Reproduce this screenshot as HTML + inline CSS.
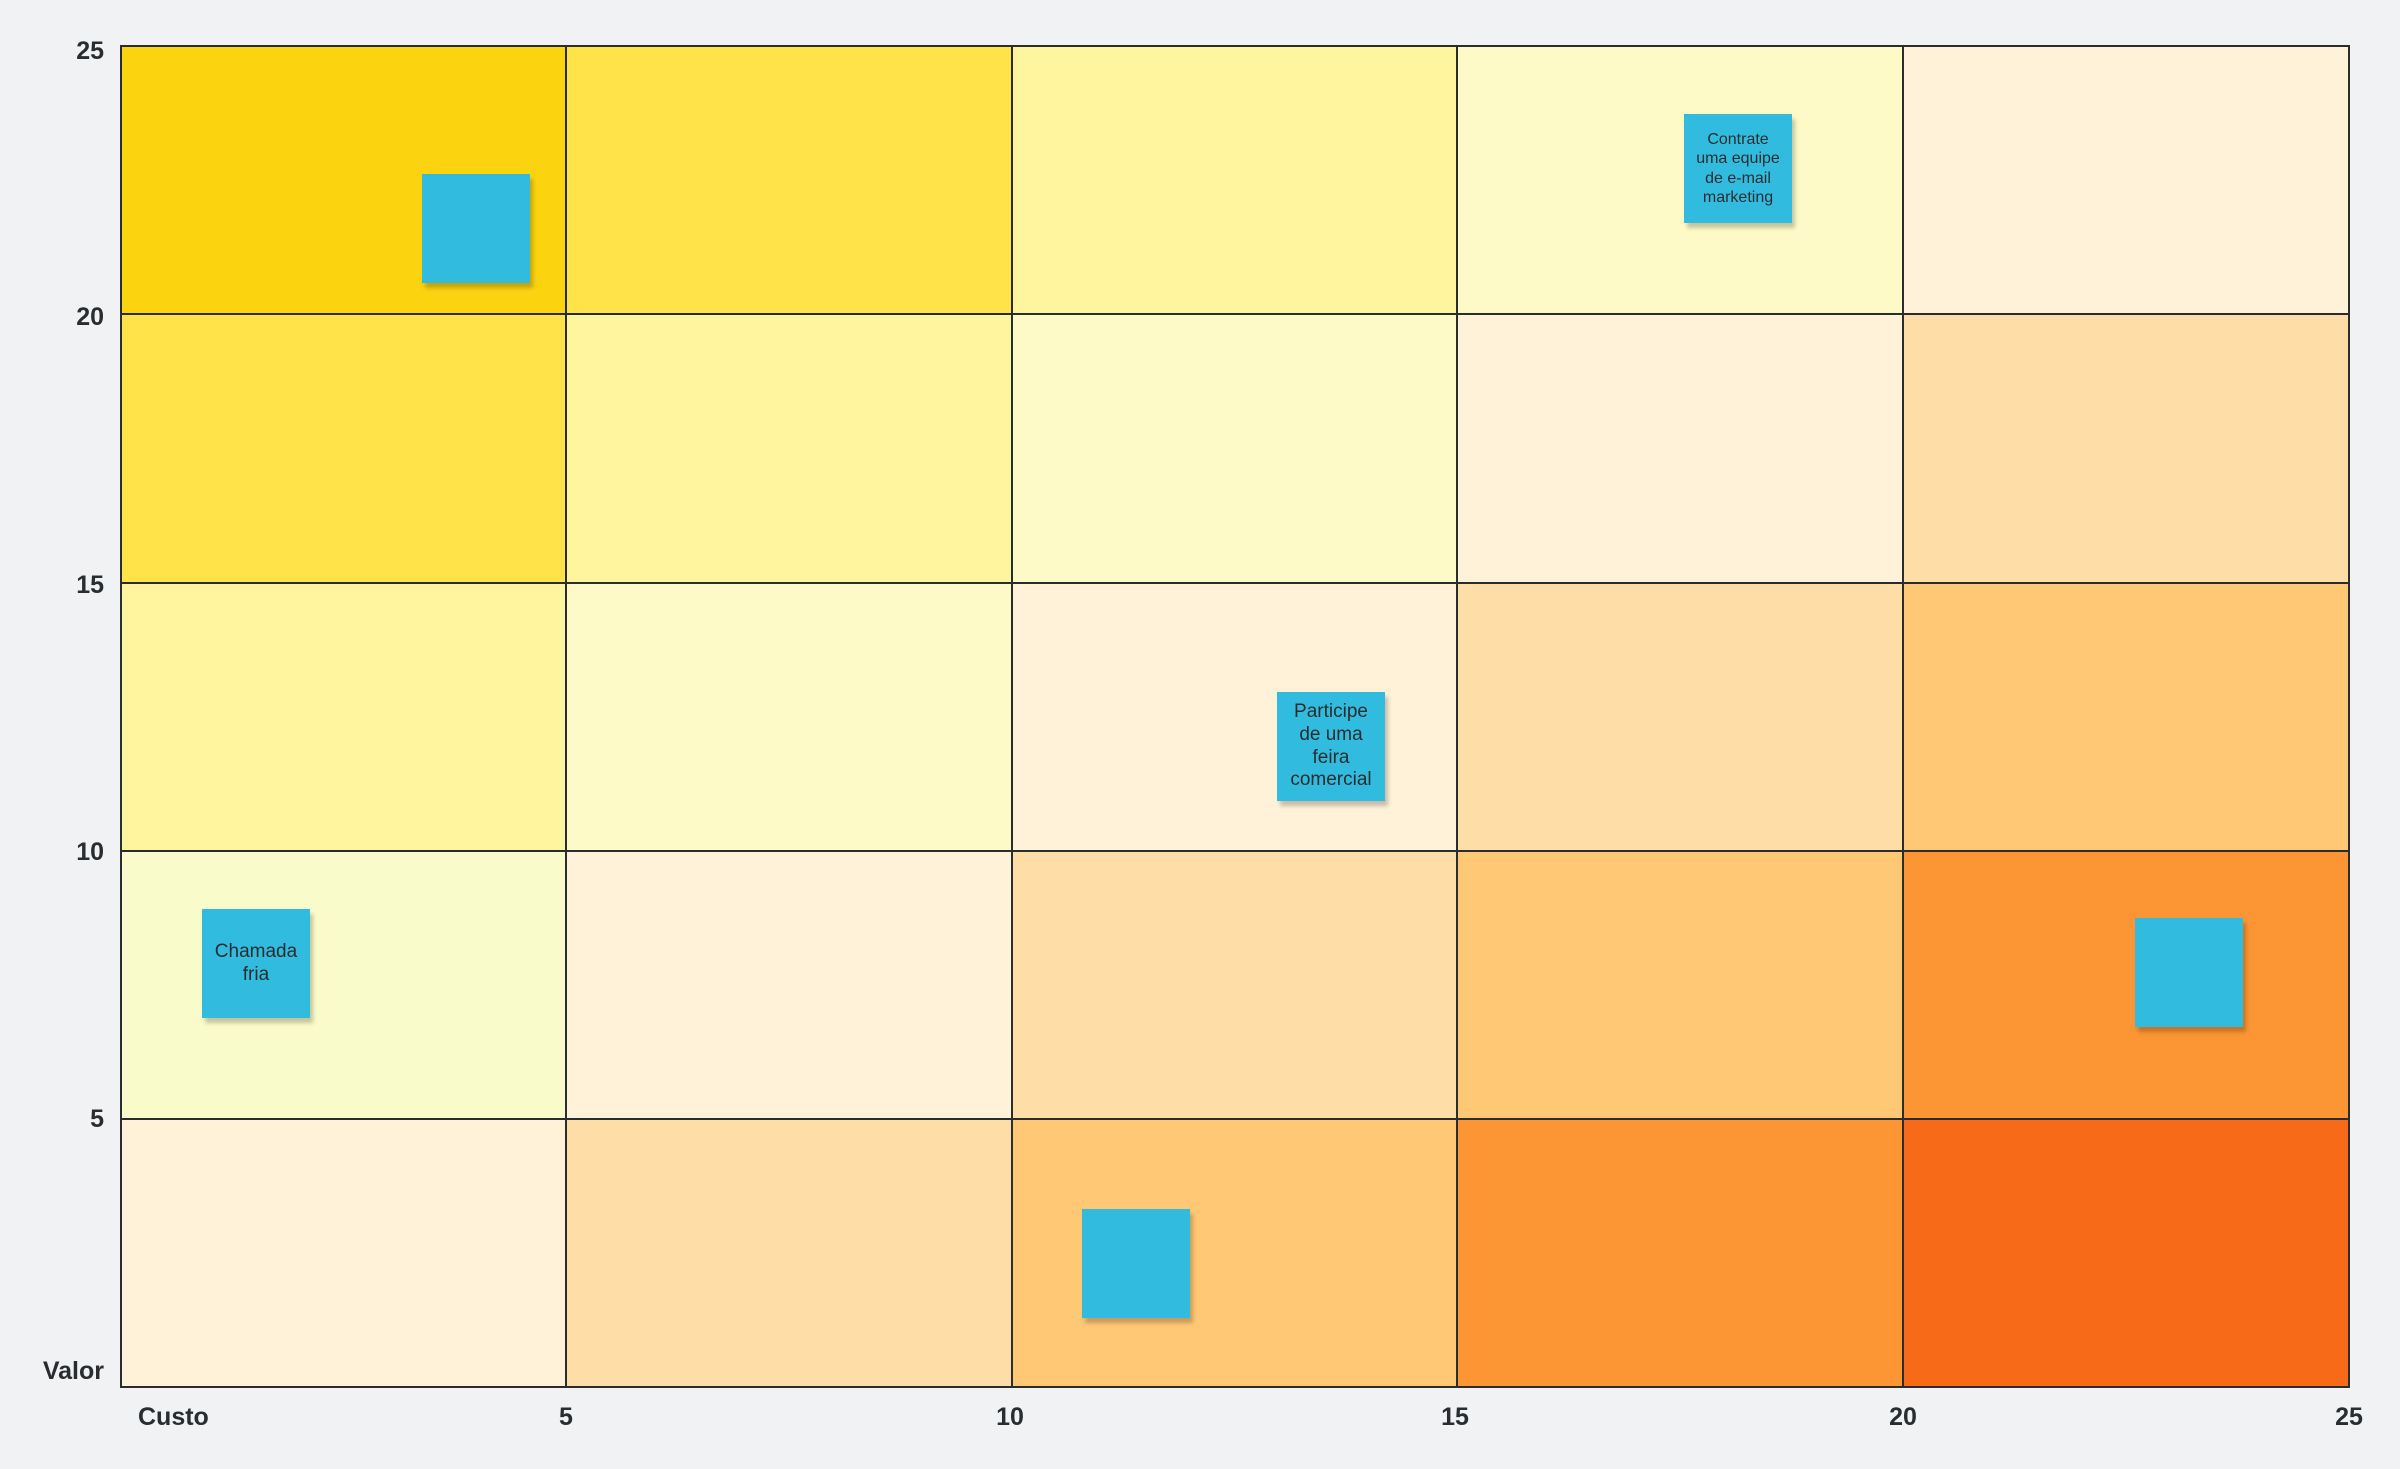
<!DOCTYPE html><html><head><style>
body{margin:0;width:2400px;height:1469px;background:#F1F2F4;position:relative;overflow:hidden;font-family:"Liberation Sans",sans-serif;}
.c{position:absolute;box-sizing:border-box;border:2px solid #2a2d30;}
.s{position:absolute;width:108px;height:109px;background:#31BCDF;box-shadow:3px 5px 4px rgba(0,0,0,0.22);display:flex;align-items:center;justify-content:center;text-align:center;color:#2a2d30;line-height:1.2;}
.t{position:absolute;font-weight:bold;font-size:25px;color:#2a2d30;}
.y{right:2296px;text-align:right}
.x{top:1403px;transform:translateX(-50%)}
</style></head><body>
<div id="g"></div>
<script>
var cols=[121,566,1012,1457,1903,2349],rows=[46,314,583,851,1119,1387];
var C=[["#FCD30F","#FFE348","#FFF59E","#FDFAC8","#FFF2D9"],
["#FFE348","#FFF59E","#FDFAC8","#FFF2D9","#FEDDA6"],
["#FFF59E","#FDFAC8","#FFF2D9","#FEDDA6","#FFC875"],
["#FAFBCB","#FFF2D9","#FEDDA6","#FFC875","#FC9533"],
["#FFF2D9","#FEDDA6","#FFC875","#FC9533","#F76A17"]];
var h="";for(var r=0;r<5;r++)for(var c=0;c<5;c++){h+='<div class="c" style="left:'+(cols[c]-1)+'px;top:'+(rows[r]-1)+'px;width:'+(cols[c+1]-cols[c]+2)+'px;height:'+(rows[r+1]-rows[r]+2)+'px;background:'+C[r][c]+'"></div>';}
document.getElementById("g").innerHTML=h;
</script>
<div class="s" style="left:422px;top:174px"></div>
<div class="s" style="left:1684px;top:114px;font-size:16px">Contrate<br>uma equipe<br>de e-mail<br>marketing</div>
<div class="s" style="left:1277px;top:692px;font-size:19px">Participe<br>de uma<br>feira<br>comercial</div>
<div class="s" style="left:202px;top:909px;font-size:19px">Chamada<br>fria</div>
<div class="s" style="left:2135px;top:918px"></div>
<div class="s" style="left:1082px;top:1209px"></div>
<div class="t y" style="top:37px">25</div>
<div class="t y" style="top:303px">20</div>
<div class="t y" style="top:571px">15</div>
<div class="t y" style="top:838px">10</div>
<div class="t y" style="top:1105px">5</div>
<div class="t y" style="top:1357px">Valor</div>
<div class="t" style="left:138px;top:1403px">Custo</div>
<div class="t x" style="left:566px">5</div>
<div class="t x" style="left:1010px">10</div>
<div class="t x" style="left:1455px">15</div>
<div class="t x" style="left:1903px">20</div>
<div class="t x" style="left:2349px">25</div>
</body></html>
